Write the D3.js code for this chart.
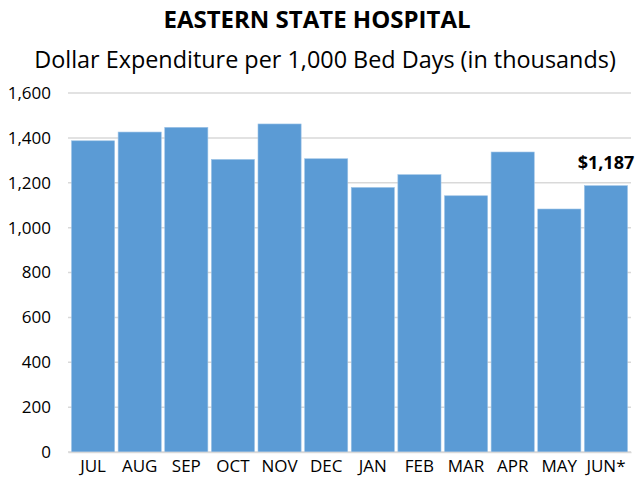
<!DOCTYPE html>
<html>
<head>
<meta charset="utf-8">
<script src="https://cdn.jsdelivr.net/npm/d3@7"></script>
<style>
  body { margin: 0; background: #fff; }
  text { font-family: "Open Sans", Lato, sans-serif; fill: #000; }
</style>
</head>
<body>
<div id="chart"></div>
<script>
// monthly values
var months = ['JUL', 'AUG', 'SEP', 'OCT', 'NOV', 'DEC', 'JAN', 'FEB', 'MAR', 'APR', 'MAY', 'JUN*'];
var spend = [1387, 1426, 1447, 1304, 1462, 1307, 1179, 1236, 1142, 1337, 1083, 1187];
var yTicks = [0, 200, 400, 600, 800, 1000, 1200, 1400, 1600];

var width = 635, height = 482;
var margin = { top: 93, right: 4, bottom: 30, left: 68 };
var w = width - margin.left - margin.right;
var h = height - margin.top - margin.bottom;

var svg = d3.select('#chart')
  .append('svg')
  .attr('width', width)
  .attr('height', height);

svg.append('text')
  .attr('x', 317).attr('y', 28)
  .attr('text-anchor', 'middle')
  .style('font-size', '24px').style('font-weight', 'bold')
  .text('EASTERN STATE HOSPITAL');

svg.append('text')
  .attr('x', 325).attr('y', 68)
  .attr('text-anchor', 'middle')
  .style('font-size', '23.4px')
  .text('Dollar Expenditure per 1,000 Bed Days (in thousands)');

var g = svg.append('g')
  .attr('transform', 'translate(' + margin.left + ',' + margin.top + ')');

var x = d3.scaleBand().domain(months).range([0, w]).padding(0.075);
var y = d3.scaleLinear().domain([0, 1600]).range([h, 0]);

// gridlines
g.append('g')
  .selectAll('line')
  .data(yTicks)
  .enter().append('line')
  .attr('x1', 0).attr('x2', w)
  .attr('y1', function(d) { return y(d); })
  .attr('y2', function(d) { return y(d); })
  .attr('stroke', '#d9d9d9')
  .attr('stroke-width', 1.5);

var yAxis = g.append('g')
  .call(d3.axisLeft(y).tickValues(yTicks).tickFormat(d3.format(',')).tickSize(0).tickPadding(17));
yAxis.select('.domain').remove();
yAxis.selectAll('text').style('font-size', '17px').attr('fill', '#000');

g.selectAll('.bar')
  .data(spend)
  .enter().append('rect')
  .attr('class', 'bar')
  .attr('x', function(d, i) { return x(months[i]); })
  .attr('y', function(d) { return y(d); })
  .attr('width', x.bandwidth())
  .attr('height', function(d) { return h - y(d); })
  .attr('fill', '#5b9bd5')
  .attr('stroke', '#9dc3e6')
  .attr('stroke-width', 0.6);

var xAxis = g.append('g')
  .attr('transform', 'translate(0,' + h + ')')
  .call(d3.axisBottom(x).tickSize(0).tickPadding(8));
xAxis.select('.domain').attr('stroke', '#d9d9d9').attr('stroke-width', 1.5);
xAxis.selectAll('text').style('font-size', '17px').attr('fill', '#000');

// label on the last bar
var last = spend.length - 1;
g.append('text')
  .attr('x', x(months[last]) + x.bandwidth() / 2)
  .attr('y', y(spend[last]) - 17)
  .attr('text-anchor', 'middle')
  .style('font-size', '18px').style('font-weight', 'bold')
  .text('$' + d3.format(',')(spend[last]));
</script>
</body>
</html>
